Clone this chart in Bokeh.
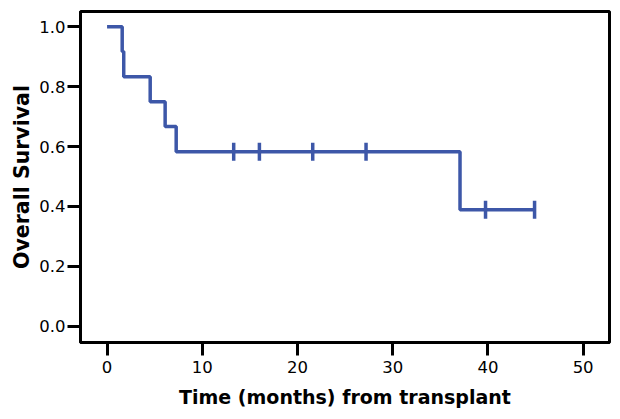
import math
from bokeh.plotting import figure
from bokeh.models import Range1d, FixedTicker
from bokeh.embed import file_html
from bokeh.resources import INLINE

# Kaplan-Meier step data (months, survival)
times = [0.0, 1.59, 1.75, 4.53, 6.10, 7.26, 37.07, 44.9]
survival = [1.0, 0.917, 0.833, 0.750, 0.667, 0.583, 0.389, 0.389]

# censored observations
censor_times = [13.3, 16.0, 21.6, 27.2, 39.75, 44.9]
censor_surv = [0.583, 0.583, 0.583, 0.583, 0.389, 0.389]

x_ticks = [0, 10, 20, 30, 40, 50]
y_ticks = [0.0, 0.2, 0.4, 0.6, 0.8, 1.0]

color = "#3D57A8"

p = figure(width=612, height=411, output_backend="svg", toolbar_location=None,
           x_range=Range1d(-2.79, 52.77), y_range=Range1d(-0.0544, 1.051),
           min_border_left=80, min_border_right=3, min_border_top=11, min_border_bottom=69)

p.step(times, survival, mode="after", line_color=color, line_width=3.5)
p.scatter(censor_times, censor_surv, marker="dash", angle=math.pi / 2, size=18,
          line_color=color, line_width=3.5)

p.xgrid.visible = False
p.ygrid.visible = False
p.outline_line_color = "black"
p.outline_line_width = 3
p.outline_line_alpha = 1.0

p.xaxis.ticker = FixedTicker(ticks=x_ticks)
p.yaxis.ticker = FixedTicker(ticks=y_ticks)
p.yaxis.major_label_overrides = {v: f"{v:.1f}" for v in y_ticks}

for ax in (p.xaxis[0], p.yaxis[0]):
    ax.axis_line_width = 3
    ax.axis_line_color = "black"
    ax.major_tick_in = 0
    ax.major_tick_out = 13
    ax.major_tick_line_width = 3
    ax.major_tick_line_color = "black"
    ax.minor_tick_line_color = None
    ax.major_label_text_font = "DejaVu Sans"
    ax.major_label_text_font_size = "16.5px"
    ax.major_label_text_color = "black"
    ax.axis_label_text_font = "DejaVu Sans"
    ax.axis_label_text_font_style = "bold"
    ax.axis_label_text_color = "black"

p.xaxis.axis_label = "Time (months) from transplant"
p.yaxis.axis_label = "Overall Survival"
p.xaxis.axis_label_text_font_size = "19px"
p.yaxis.axis_label_text_font_size = "20.5px"
p.xaxis.major_label_standoff = 5
p.yaxis.major_label_standoff = 2
p.xaxis.axis_label_standoff = 10
p.yaxis.axis_label_standoff = 2

open("out.html", "w").write(file_html(p, INLINE))
